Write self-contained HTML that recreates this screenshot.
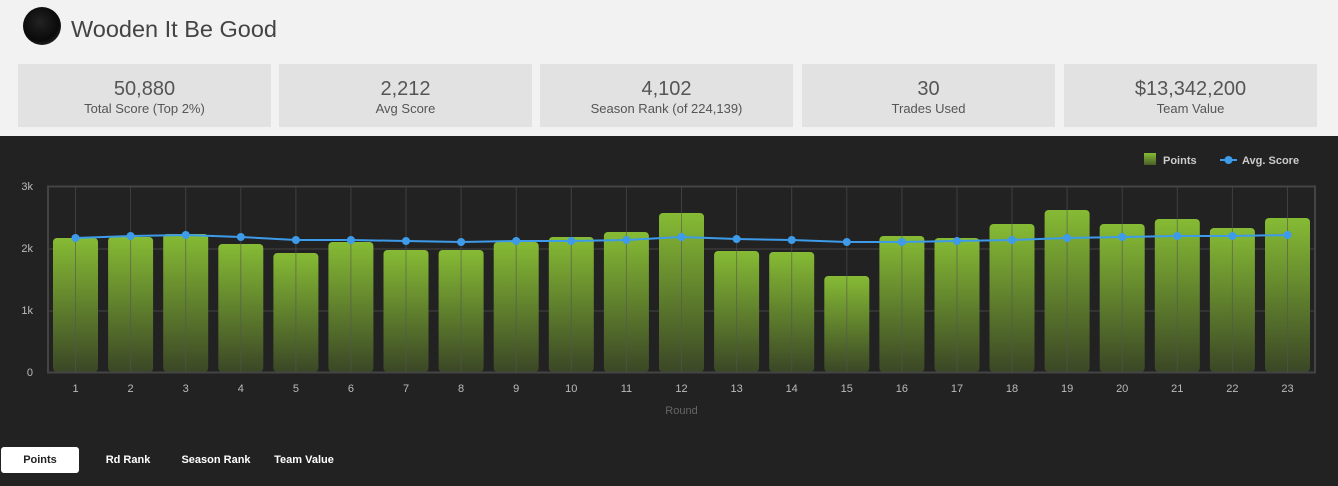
<!DOCTYPE html>
<html><head><meta charset="utf-8"><style>
body{margin:0;width:1338px;height:486px;overflow:hidden;background:#f2f2f2;font-family:"Liberation Sans",sans-serif;}
.top{position:absolute;left:0;top:0;width:1338px;height:136px;background:#f2f2f2}
.logo{position:absolute;left:23px;top:7px;width:38px;height:38px;border-radius:50%;background:radial-gradient(circle at 45% 40%,#222 0,#0a0a0a 60%,#444 100%)}
.title{position:absolute;left:71px;top:16px;font-size:23.5px;color:#444}
.card{position:absolute;top:64px;width:253px;height:63px;background:#e1e2e1;text-align:center;color:#555}
.card .v{font-size:20px;margin-top:14px;line-height:22px}
.card .l{font-size:13px;margin-top:1px}
.dark{position:absolute;left:0;top:136px;width:1338px;height:350px;background:#222}
.btn{position:absolute;top:447px;height:26px;line-height:26px;font-size:11px;font-weight:bold;color:#fff;text-align:center}
</style></head><body>
<div class="top">
<div class="logo"></div><div class="title">Wooden It Be Good</div>
<div class="card" style="left:18px"><div class="v">50,880</div><div class="l">Total Score (Top 2%)</div></div>
<div class="card" style="left:279px"><div class="v">2,212</div><div class="l">Avg Score</div></div>
<div class="card" style="left:540px"><div class="v">4,102</div><div class="l">Season Rank (of 224,139)</div></div>
<div class="card" style="left:802px"><div class="v">30</div><div class="l">Trades Used</div></div>
<div class="card" style="left:1064px"><div class="v">$13,342,200</div><div class="l">Team Value</div></div>
</div>
<div class="dark"></div>
<svg style="position:absolute;left:0;top:0" width="1338" height="486">
<defs><linearGradient id="g" x1="0" y1="0" x2="0" y2="1"><stop offset="0" stop-color="#86bb34"/><stop offset="1" stop-color="#3b4726"/></linearGradient>
<linearGradient id="g2" x1="0" y1="0" x2="0" y2="1"><stop offset="0" stop-color="#86bb34"/><stop offset="1" stop-color="#4a5e2a"/></linearGradient></defs>
<g stroke="#444" stroke-width="1">
<line x1="48" y1="249" x2="1315" y2="249"/><line x1="48" y1="311" x2="1315" y2="311"/>
</g>
<g id="bars" fill="url(#g)">
<rect x="53" y="238" width="45" height="134" rx="4"/>
<rect x="108.1" y="237" width="45" height="135" rx="4"/>
<rect x="163.2" y="234" width="45" height="138" rx="4"/>
<rect x="218.3" y="244" width="45" height="128" rx="4"/>
<rect x="273.4" y="253" width="45" height="119" rx="4"/>
<rect x="328.4" y="242" width="45" height="130" rx="4"/>
<rect x="383.5" y="250" width="45" height="122" rx="4"/>
<rect x="438.6" y="250" width="45" height="122" rx="4"/>
<rect x="493.7" y="242" width="45" height="130" rx="4"/>
<rect x="548.8" y="237" width="45" height="135" rx="4"/>
<rect x="603.9" y="232" width="45" height="140" rx="4"/>
<rect x="659" y="213" width="45" height="159" rx="4"/>
<rect x="714.1" y="251" width="45" height="121" rx="4"/>
<rect x="769.2" y="252" width="45" height="120" rx="4"/>
<rect x="824.3" y="276" width="45" height="96" rx="4"/>
<rect x="879.4" y="236" width="45" height="136" rx="4"/>
<rect x="934.5" y="238" width="45" height="134" rx="4"/>
<rect x="989.5" y="224" width="45" height="148" rx="4"/>
<rect x="1044.6" y="210" width="45" height="162" rx="4"/>
<rect x="1099.7" y="224" width="45" height="148" rx="4"/>
<rect x="1154.8" y="219" width="45" height="153" rx="4"/>
<rect x="1209.9" y="228" width="45" height="144" rx="4"/>
<rect x="1265" y="218" width="45" height="154" rx="4"/>
</g>
<g stroke="#555" stroke-opacity="0.6" stroke-width="1">
<line x1="75.5" y1="186" x2="75.5" y2="372"/><line x1="130.6" y1="186" x2="130.6" y2="372"/><line x1="185.7" y1="186" x2="185.7" y2="372"/><line x1="240.8" y1="186" x2="240.8" y2="372"/><line x1="295.9" y1="186" x2="295.9" y2="372"/><line x1="350.9" y1="186" x2="350.9" y2="372"/><line x1="406" y1="186" x2="406" y2="372"/><line x1="461.1" y1="186" x2="461.1" y2="372"/><line x1="516.2" y1="186" x2="516.2" y2="372"/><line x1="571.3" y1="186" x2="571.3" y2="372"/><line x1="626.4" y1="186" x2="626.4" y2="372"/><line x1="681.5" y1="186" x2="681.5" y2="372"/><line x1="736.6" y1="186" x2="736.6" y2="372"/><line x1="791.7" y1="186" x2="791.7" y2="372"/><line x1="846.8" y1="186" x2="846.8" y2="372"/><line x1="901.9" y1="186" x2="901.9" y2="372"/><line x1="957" y1="186" x2="957" y2="372"/><line x1="1012" y1="186" x2="1012" y2="372"/><line x1="1067.1" y1="186" x2="1067.1" y2="372"/><line x1="1122.2" y1="186" x2="1122.2" y2="372"/><line x1="1177.3" y1="186" x2="1177.3" y2="372"/><line x1="1232.4" y1="186" x2="1232.4" y2="372"/><line x1="1287.5" y1="186" x2="1287.5" y2="372"/>
</g>
<rect x="48" y="186.5" width="1267" height="186" fill="none" stroke="#444" stroke-width="2"/>
<polyline fill="none" stroke="#3d9be9" stroke-width="2" points="75.5,238 130.6,236 185.7,235 240.8,237 295.9,240 350.9,240 406,241 461.1,242 516.2,241 571.3,241 626.4,240 681.5,237 736.6,239 791.7,240 846.8,242 901.9,242 957,241 1012,240 1067.1,238 1122.2,237 1177.3,236 1232.4,236 1287.5,235"/>
<g fill="#3d9be9">
<circle cx="75.5" cy="238" r="4"/><circle cx="130.6" cy="236" r="4"/><circle cx="185.7" cy="235" r="4"/><circle cx="240.8" cy="237" r="4"/><circle cx="295.9" cy="240" r="4"/><circle cx="350.9" cy="240" r="4"/><circle cx="406" cy="241" r="4"/><circle cx="461.1" cy="242" r="4"/><circle cx="516.2" cy="241" r="4"/><circle cx="571.3" cy="241" r="4"/><circle cx="626.4" cy="240" r="4"/><circle cx="681.5" cy="237" r="4"/><circle cx="736.6" cy="239" r="4"/><circle cx="791.7" cy="240" r="4"/><circle cx="846.8" cy="242" r="4"/><circle cx="901.9" cy="242" r="4"/><circle cx="957" cy="241" r="4"/><circle cx="1012" cy="240" r="4"/><circle cx="1067.1" cy="238" r="4"/><circle cx="1122.2" cy="237" r="4"/><circle cx="1177.3" cy="236" r="4"/><circle cx="1232.4" cy="236" r="4"/><circle cx="1287.5" cy="235" r="4"/>
</g>
<g fill="#bbb" font-size="11" font-family="Liberation Sans,sans-serif" text-anchor="end">
<text x="33" y="190">3k</text><text x="33" y="252">2k</text><text x="33" y="314">1k</text><text x="33" y="376">0</text>
</g>
<g fill="#bbb" font-size="11" font-family="Liberation Sans,sans-serif" text-anchor="middle">
<text x="75.5" y="392">1</text><text x="130.6" y="392">2</text><text x="185.7" y="392">3</text><text x="240.8" y="392">4</text><text x="295.9" y="392">5</text><text x="350.9" y="392">6</text><text x="406" y="392">7</text><text x="461.1" y="392">8</text><text x="516.2" y="392">9</text><text x="571.3" y="392">10</text><text x="626.4" y="392">11</text><text x="681.5" y="392">12</text><text x="736.6" y="392">13</text><text x="791.7" y="392">14</text><text x="846.8" y="392">15</text><text x="901.9" y="392">16</text><text x="957" y="392">17</text><text x="1012" y="392">18</text><text x="1067.1" y="392">19</text><text x="1122.2" y="392">20</text><text x="1177.3" y="392">21</text><text x="1232.4" y="392">22</text><text x="1287.5" y="392">23</text>
<text x="681.5" y="414" fill="#666">Round</text>
</g>
<rect x="1144" y="153" width="12" height="12" fill="url(#g2)"/>
<text x="1163" y="164" fill="#ccc" font-size="11" font-weight="bold" font-family="Liberation Sans,sans-serif">Points</text>
<line x1="1220" y1="160" x2="1237" y2="160" stroke="#3d9be9" stroke-width="2"/><circle cx="1228.5" cy="160" r="4" fill="#3d9be9"/>
<text x="1242" y="164" fill="#ccc" font-size="11" font-weight="bold" font-family="Liberation Sans,sans-serif">Avg. Score</text>
</svg>
<div class="btn" style="left:1px;width:78px;background:#fff;color:#222;border-radius:3px">Points</div>
<div class="btn" style="left:96px;width:64px">Rd Rank</div>
<div class="btn" style="left:176px;width:80px">Season Rank</div>
<div class="btn" style="left:268px;width:72px">Team Value</div>
</body></html>
